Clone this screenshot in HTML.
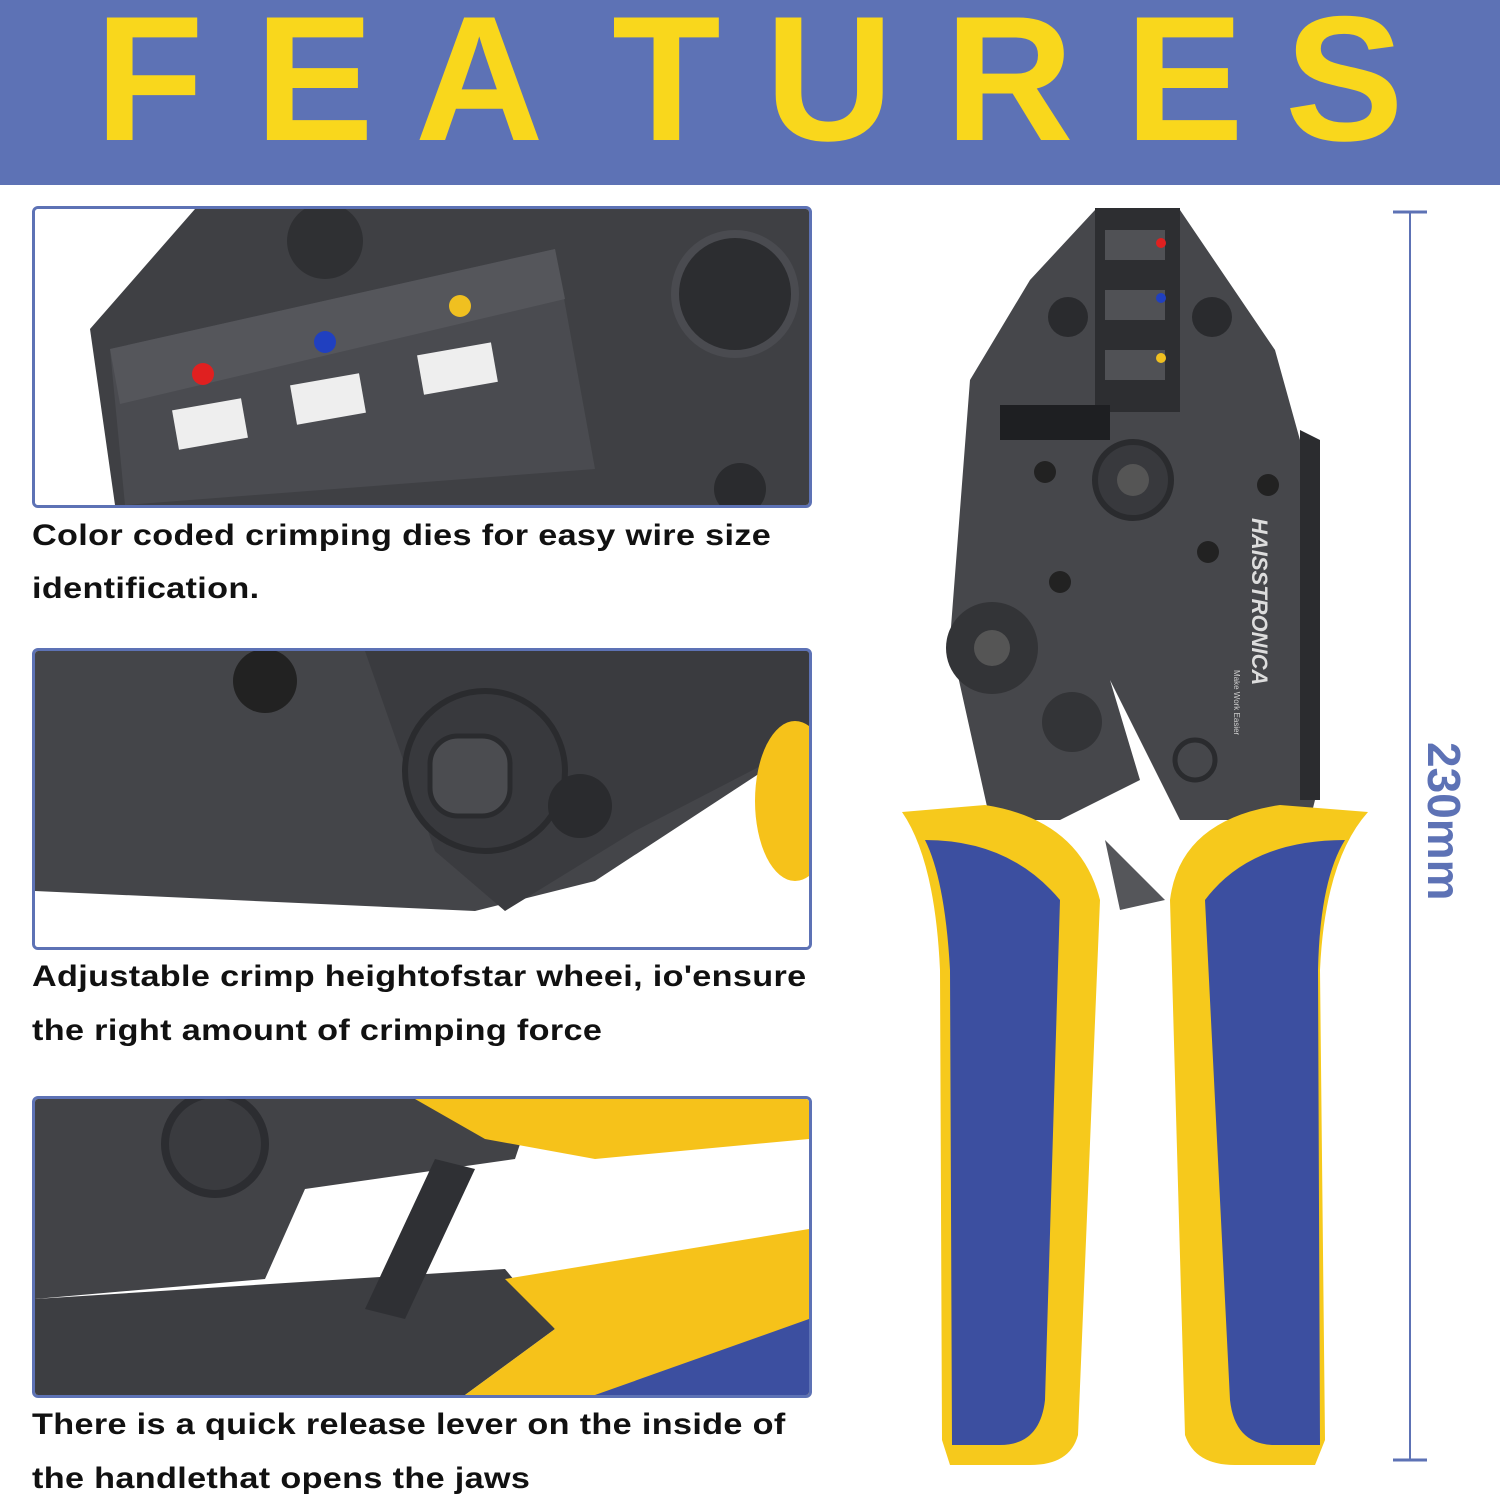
<!DOCTYPE html>
<html><head><meta charset="utf-8"><style>
html,body{margin:0;padding:0;background:#fff;}
body{width:1500px;height:1500px;position:relative;overflow:hidden;font-family:"Liberation Sans",sans-serif;}
.hdr{position:absolute;left:0;top:0;width:1500px;height:185px;background:#5d72b5;}
.hdr span{position:absolute;top:-14px;font-size:178px;font-weight:bold;color:#f9d71c;line-height:185px;}
.box{position:absolute;left:32px;width:774px;height:296px;border:3px solid #5d72b5;border-radius:6px;overflow:hidden;background:#fff;}
.cap{position:absolute;left:32px;font-size:30px;font-weight:bold;color:#111;letter-spacing:0.3px;white-space:nowrap;transform:scaleX(1.14);transform-origin:0 0;}
</style></head><body>
<div class="hdr">
<span style="left:95px">F</span><span style="left:255px">E</span><span style="left:415px">A</span><span style="left:612px">T</span><span style="left:765px">U</span><span style="left:945px">R</span><span style="left:1125px">E</span><span style="left:1285px">S</span>
</div>

<div class="box" style="top:206px">
<svg width="774" height="296">
<rect width="774" height="296" fill="#fff"/>
<polygon points="55,120 160,0 774,0 774,296 80,296" fill="#3f4044"/>
<polygon points="75,140 520,40 560,260 90,296" fill="#4a4b50"/>
<polygon points="75,140 520,40 530,90 85,195" fill="#55565b"/>
<circle cx="290" cy="32" r="38" fill="#2f3033"/>
<circle cx="700" cy="85" r="60" fill="#2c2d30" stroke="#4a4b50" stroke-width="8"/>
<circle cx="705" cy="280" r="26" fill="#2a2b2e"/>
<rect x="140" y="195" width="70" height="40" fill="#eee" transform="rotate(-10 175 215)"/>
<rect x="258" y="170" width="70" height="40" fill="#eee" transform="rotate(-10 293 190)"/>
<rect x="385" y="140" width="75" height="40" fill="#eee" transform="rotate(-10 420 160)"/>
<circle cx="168" cy="165" r="11" fill="#e02020"/>
<circle cx="290" cy="133" r="11" fill="#2040c0"/>
<circle cx="425" cy="97" r="11" fill="#f0c020"/>
</svg></div>
<div class="cap" style="top:519px">Color coded crimping dies for easy wire size</div>
<div class="cap" style="top:572px">identification.</div>

<div class="box" style="top:648px">
<svg width="774" height="296">
<rect width="774" height="296" fill="#fff"/>
<polygon points="0,0 774,0 774,90 560,230 440,260 0,240" fill="#444549"/>
<polygon points="330,0 774,0 774,90 600,180 470,260 400,200" fill="#3a3b3f"/>
<ellipse cx="760" cy="150" rx="40" ry="80" fill="#f6c21a"/>
<circle cx="230" cy="30" r="32" fill="#222"/>
<circle cx="450" cy="120" r="80" fill="#38393d" stroke="#2a2b2e" stroke-width="6"/>
<rect x="395" y="85" width="80" height="80" rx="28" fill="#4b4c50" stroke="#2a2b2e" stroke-width="5"/>
<circle cx="545" cy="155" r="32" fill="#2a2b2e"/>
</svg></div>
<div class="cap" style="top:960px">Adjustable crimp heightofstar wheei, io'ensure</div>
<div class="cap" style="top:1014px">the right amount of crimping force</div>

<div class="box" style="top:1096px">
<svg width="774" height="296">
<rect width="774" height="296" fill="#fff"/>
<polygon points="0,0 500,0 480,60 270,90 230,180 0,200" fill="#424347"/>
<polygon points="380,0 774,0 774,40 560,60 450,40" fill="#f6c21a"/>
<polygon points="0,200 470,170 520,230 430,296 0,296" fill="#3d3e42"/>
<polygon points="330,210 400,60 440,70 370,220" fill="#2f3034"/>
<polygon points="470,180 774,130 774,296 430,296 520,230" fill="#f6c21a"/>
<polygon points="560,296 774,220 774,296" fill="#3c4fa0"/>
<circle cx="180" cy="45" r="50" fill="#3a3b3f" stroke="#2c2d31" stroke-width="8"/>
</svg></div>
<div class="cap" style="top:1408px">There is a quick release lever on the inside of</div>
<div class="cap" style="top:1462px">the handlethat opens the jaws</div>

<svg style="position:absolute;left:880px;top:200px" width="620" height="1280">
<polygon points="150,80 215,10 300,10 395,150 420,240 440,580 430,620 300,620 230,480 260,580 180,620 110,620 70,440 90,180" fill="#46474b"/>
<polygon points="215,8 300,8 300,212 215,212" fill="#2d2e31"/>
<rect x="225" y="30" width="60" height="30" fill="#505155"/>
<rect x="225" y="90" width="60" height="30" fill="#505155"/>
<rect x="225" y="150" width="60" height="30" fill="#505155"/>
<circle cx="281" cy="43" r="5" fill="#e02020"/>
<circle cx="281" cy="98" r="5" fill="#2040c0"/>
<circle cx="281" cy="158" r="5" fill="#f0c020"/>
<rect x="120" y="205" width="110" height="35" fill="#1e1f22"/>
<circle cx="188" cy="117" r="20" fill="#2a2b2e"/>
<circle cx="332" cy="117" r="20" fill="#2a2b2e"/>
<circle cx="253" cy="280" r="38" fill="#38393d" stroke="#2a2b2e" stroke-width="6"/>
<circle cx="253" cy="280" r="16" fill="#555"/>
<circle cx="165" cy="272" r="11" fill="#222"/>
<circle cx="180" cy="382" r="11" fill="#222"/>
<circle cx="328" cy="352" r="11" fill="#222"/>
<circle cx="388" cy="285" r="11" fill="#222"/>
<circle cx="112" cy="448" r="46" fill="#333437"/>
<circle cx="112" cy="448" r="18" fill="#555"/>
<circle cx="192" cy="522" r="30" fill="#333437"/>
<circle cx="315" cy="560" r="20" fill="none" stroke="#2a2b2e" stroke-width="5"/>
<polygon points="420,230 440,240 440,600 420,600" fill="#2b2c2f"/>
<text x="0" y="0" transform="translate(372,318) rotate(90)" font-family="Liberation Sans" font-weight="bold" font-style="italic" font-size="22" fill="#ddd">HAISSTRONICA</text>
<text x="0" y="0" transform="translate(354,470) rotate(90)" font-family="Liberation Sans" font-size="8" fill="#ccc">Make Work Easier</text>
<path d="M22,612 L105,605 Q200,620 220,700 L198,1235 Q190,1265 150,1265 L70,1265 L62,1240 L60,770 Q55,660 22,612 Z" fill="#f6c91c"/>
<path d="M45,640 Q130,640 180,700 L165,1200 Q160,1245 120,1245 L72,1245 L70,770 Q65,680 45,640 Z" fill="#3c4fa0"/>
<path d="M488,612 L400,605 Q300,620 290,700 L305,1235 Q315,1265 355,1265 L435,1265 L445,1240 L440,770 Q445,660 488,612 Z" fill="#f6c91c"/>
<path d="M465,640 Q370,640 325,700 L350,1200 Q355,1245 395,1245 L440,1245 L438,770 Q440,680 465,640 Z" fill="#3c4fa0"/>
<polygon points="225,640 285,700 240,710" fill="#55565a"/>
<line x1="530" y1="12" x2="530" y2="1260" stroke="#5d72b5" stroke-width="2"/>
<line x1="513" y1="12" x2="547" y2="12" stroke="#5d72b5" stroke-width="3"/>
<line x1="513" y1="1260" x2="547" y2="1260" stroke="#5d72b5" stroke-width="3"/>
<text x="0" y="0" transform="translate(548,542) rotate(90)" font-family="Liberation Sans" font-weight="bold" font-size="46" fill="#5d72b5">230mm</text>
</svg>
</body></html>
